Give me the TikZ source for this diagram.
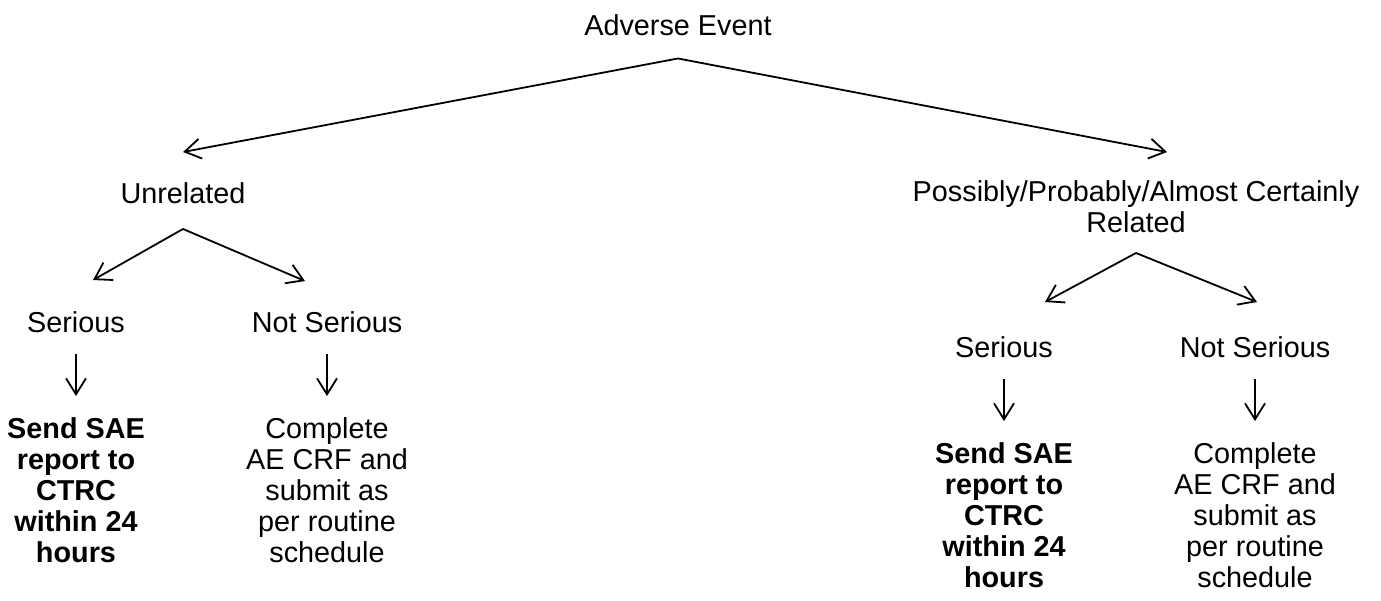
\documentclass[tikz,border=0pt]{standalone}
\usepackage{fontspec}
\setmainfont{Liberation Sans}
\usepackage{tikz}
\usetikzlibrary{arrows.meta,positioning}

\newcommand{\aefont}{\fontsize{14.4pt}{15.5pt}\selectfont}

\begin{document}
\begin{tikzpicture}[->,>={Straight Barb[length=8pt,width=10pt]},line width=0.9pt,
		on grid,font=\aefont]
		\tikzstyle{every node}=[inner sep=0pt,align=center]
		\tikzstyle{action}=[font=\aefont\bfseries]

		\useasboundingbox (0,0) rectangle (690.5pt,-300pt);

		\node (AE) at (339pt,-12.5pt) {Adverse Event};
		\node (U)   [below left=84pt and 247.5pt of AE] {Unrelated};
		\node (R)   [below right=91pt and 229pt of AE]  {Possibly/Probably/Almost Certainly\\Related};
		\node (US)  [below left=64.5pt and 53.5pt of U] {Serious};
		\node (UN)  [below right=64.5pt and 72pt of U]  {Not Serious};
		\node (USA) [action, below=84pt of US] {Send SAE\\report to\\CTRC\\within 24\\hours};
		\node (UNA) [below=84pt of UN] {Complete\\AE CRF and\\submit as\\per routine\\schedule};
		\node (RS)  [below left=70pt and 66pt of R]     {Serious};
		\node (RN)  [below right=70pt and 59.5pt of R]  {Not Serious};
		\node (RSA) [action, below=84pt of RS] {Send SAE\\report to\\CTRC\\within 24\\hours};
		\node (RNA) [below=84pt of RN] {Complete\\AE CRF and\\submit as\\per routine\\schedule};

		% fork points under the labels
		\coordinate [below=11pt of AE.south]   (fork0);
		\coordinate [below=12.25pt of U.south] (fork1);
		\coordinate [below=9.5pt of R.south]   (fork2);

		\path
		(fork0) edge ([yshift=14.75pt]U.north)
			edge ([xshift=15.5pt,yshift=14pt]R.north)
		(fork1) edge ([xshift=8.5pt,yshift=15.25pt]US.north)
			edge ([xshift=-11pt,yshift=14.75pt]UN.north)
		(fork2) edge ([xshift=20.5pt,yshift=16.75pt]RS.north)
			edge ([xshift=1pt,yshift=16.75pt]RN.north);

		\path
		(US) edge [shorten <=10.25pt,shorten >=10.25pt] (USA)
		(UN) edge [shorten <=10.25pt,shorten >=10.25pt] (UNA)
		(RS) edge [shorten <=10.25pt,shorten >=10.25pt] (RSA)
		(RN) edge [shorten <=10.25pt,shorten >=10.25pt] (RNA);

		\end{tikzpicture}
\end{document}
